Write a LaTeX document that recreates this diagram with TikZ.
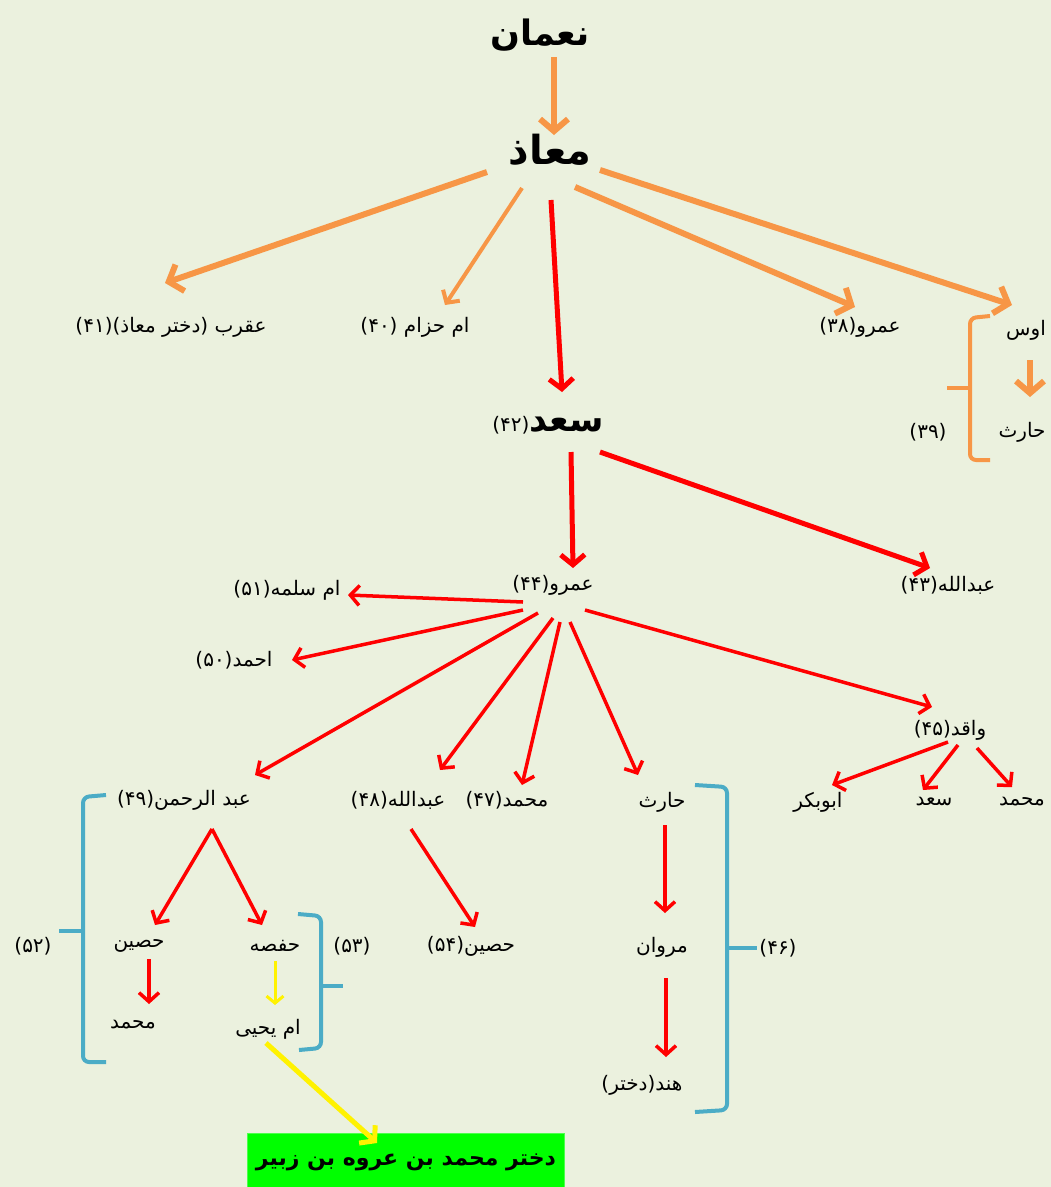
\documentclass[tikz,border=0pt]{standalone}
\usepackage{fontspec}
\usetikzlibrary{arrows.meta}
\TeXXeTstate=1
\newfontfamily\arabicfont[Script=Arabic]{DejaVu Sans}
\newcommand\labelfont{\arabicfont\mdseries\fontsize{20}{24}\selectfont}
\newcommand\titlefont{\arabicfont\bfseries\fontsize{35}{40}\selectfont}

\definecolor{bgpale}{HTML}{EBF1DE}
\definecolor{arrorange}{HTML}{F79646}
\definecolor{braceblue}{HTML}{4BACC6}
\definecolor{boxgreen}{HTML}{00FF00}

\tikzset{
  person/.style={font=\labelfont, inner sep=0pt},
  elder/.style={font=\titlefont, inner sep=0pt},
  orangeline/.style={draw=arrorange, line width=6pt, -{Straight Barb[length=12pt,width=28pt]}},
  orangethin/.style={draw=arrorange, line width=4pt, -{Straight Barb[length=9pt,width=20pt]}},
  redthick/.style={draw=red, line width=5pt, -{Straight Barb[length=10pt,width=24pt]}},
  redline/.style={draw=red, line width=3.5pt, -{Straight Barb[length=9pt,width=20pt]}},
  yellowline/.style={draw=yellow, line width=3pt, -{Straight Barb[length=7pt,width=17pt]}},
  yellowthick/.style={draw=yellow, line width=5pt, -{Straight Barb[length=10pt,width=24pt]}},
  bluebrace/.style={draw=braceblue, line width=4pt, rounded corners=6pt},
  orangebrace/.style={draw=arrorange, line width=4pt, rounded corners=6pt}
}

\begin{document}
\begin{tikzpicture}[x=1pt,y=-1pt]
  \useasboundingbox[fill=bgpale] (0,0) rectangle (1051,1187);

  % top of the tree
  \node[elder] (noman) at (540,35) {\beginR نعمان\endR};
  \node[elder, font=\arabicfont\bfseries\fontsize{40}{44}\selectfont] (moaz) at (550,150) {\beginR معاذ\endR};
  \node[elder] (saad) at (548,425) {\beginR سعد{\labelfont(۴۲)}\endR};

  % children of moaz
  \node[person] (aqrab) at (171,327) {\beginR عقرب (دختر معاذ)(۴۱)\endR};
  \node[person] (omhezam) at (415,327) {\beginR ام حزام (۴۰)\endR};
  \node[person] (amr) at (860,327) {\beginR عمرو(۳۸)\endR};
  \node[person] (aws) at (1026,330) {\beginR اوس\endR};
  \node[person] (haris) at (1022,432) {\beginR حارث\endR};
  \node[person] (n39) at (928,432) {\beginR(۳۹)\endR};

  % children of saad
  \node[person] (abd43) at (948,585) {\beginR عبدالله(۴۳)\endR};
  \node[person] (amr44) at (553,585) {\beginR عمرو(۴۴)\endR};

  % children of amr44
  \node[person] (omsalma) at (287,590) {\beginR ام سلمه(۵۱)\endR};
  \node[person] (ahmad) at (234,660) {\beginR احمد(۵۰)\endR};
  \node[person] (waqed) at (950,730) {\beginR واقد(۴۵)\endR};
  \node[person] (abdrahman) at (184,800) {\beginR عبد الرحمن(۴۹)\endR};
  \node[person] (abd48) at (398,800) {\beginR عبدالله(۴۸)\endR};
  \node[person] (mohd47) at (507,800) {\beginR محمد(۴۷)\endR};
  \node[person] (haris2) at (662,802) {\beginR حارث\endR};

  % children of waqed
  \node[person] (abubakr) at (818,802) {\beginR ابوبکر\endR};
  \node[person] (saad2) at (934,802) {\beginR سعد\endR};
  \node[person] (mohd2) at (1022,802) {\beginR محمد\endR};

  % lower rows
  \node[person] (marwan) at (662,947) {\beginR مروان\endR};
  \node[person] (hind) at (642,1085) {\beginR هند(دختر)\endR};
  \node[person] (n46) at (778,948) {\beginR(۴۶)\endR};
  \node[person] (husain) at (139,946) {\beginR حصین\endR};
  \node[person] (mohd3) at (133,1025) {\beginR محمد\endR};
  \node[person] (hafsa) at (275,946) {\beginR حفصه\endR};
  \node[person] (omyahya) at (268,1029) {\beginR ام یحیی\endR};
  \node[person] (n52) at (33,946) {\beginR(۵۲)\endR};
  \node[person] (n53) at (352,946) {\beginR(۵۳)\endR};
  \node[person] (husain54) at (471,946) {\beginR حصین(۵۴)\endR};
  \node[elder, font=\arabicfont\bfseries\fontsize{22}{26}\selectfont, fill=boxgreen, draw=green!70!white,
        minimum width=317pt, minimum height=58pt] (daughter) at (406,1162)
        {\beginR دختر محمد بن عروه بن زبیر\endR};

  % orange arrows
  \draw[orangeline] ([shift={(14,22)}]noman.center) -- ([shift={(4,-15)}]moaz.center);
  \draw[orangeline] ([shift={(-63,22)}]moaz.center) -- ([shift={(-6,-44)}]aqrab.center);
  \draw[orangethin] ([shift={(-28,38)}]moaz.center) -- ([shift={(30,-22)}]omhezam.center);
  \draw[orangeline] ([shift={(25,37)}]moaz.center) -- ([shift={(-5,-20)}]amr.center);
  \draw[orangeline] ([shift={(50,20)}]moaz.center) -- ([shift={(-14,-25)}]aws.center);
  \draw[orangeline] ([shift={(4,30)}]aws.center) -- ([shift={(8,-35)}]haris.center);

  % red arrows
  \draw[redthick] ([shift={(1,50)}]moaz.center) -- ([shift={(14,-33)}]saad.center);
  \draw[redthick] ([shift={(23,27)}]saad.center) -- ([shift={(20,-17)}]amr44.center);
  \draw[redthick] ([shift={(52,27)}]saad.center) -- ([shift={(-18,-17)}]abd43.center);

  \draw[redline] ([shift={(-30,17)}]amr44.center) -- ([shift={(61,5)}]omsalma.center);
  \draw[redline] ([shift={(-30,25)}]amr44.center) -- ([shift={(58,0)}]ahmad.center);
  \draw[redline] ([shift={(-15,28)}]amr44.center) -- ([shift={(71,-25)}]abdrahman.center);
  \draw[redline] ([shift={(0,33)}]amr44.center) -- ([shift={(42,-30)}]abd48.center);
  \draw[redline] ([shift={(7,37)}]amr44.center) -- ([shift={(15,-15)}]mohd47.center);
  \draw[redline] ([shift={(17,37)}]amr44.center) -- ([shift={(-24,-27)}]haris2.center);
  \draw[redline] ([shift={(32,25)}]amr44.center) -- ([shift={(-18,-23)}]waqed.center);

  \draw[redline] ([shift={(-2,12)}]waqed.center) -- ([shift={(14,-17)}]abubakr.center);
  \draw[redline] ([shift={(8,15)}]waqed.center) -- ([shift={(-11,-12)}]saad2.center);
  \draw[redline] ([shift={(27,18)}]waqed.center) -- ([shift={(-10,-15)}]mohd2.center);

  \draw[redline] ([shift={(28,29)}]abdrahman.center) -- ([shift={(16,-21)}]husain.center);
  \draw[redline] ([shift={(28,29)}]abdrahman.center) -- ([shift={(-13,-21)}]hafsa.center);
  \draw[redline] ([shift={(13,29)}]abd48.center) -- ([shift={(4,-19)}]husain54.center);
  \draw[redline] ([shift={(3,23)}]haris2.center) -- ([shift={(3,-34)}]marwan.center);
  \draw[redline] ([shift={(4,31)}]marwan.center) -- ([shift={(24,-28)}]hind.center);
  \draw[redline] ([shift={(10,13)}]husain.center) -- ([shift={(16,-21)}]mohd3.center);

  % yellow arrows
  \draw[yellowline] ([shift={(0,15)}]hafsa.center) -- ([shift={(7,-24)}]omyahya.center);
  \draw[yellowthick] ([shift={(-2,14)}]omyahya.center) -- ([shift={(-29,-19)}]daughter.center);

  % braces
  \draw[orangebrace] (990,316) -- (970,318) -- (970,460) -- (990,460);
  \draw[orangebrace] (970,388) -- (947,388);
  \draw[bluebrace] (695,785) -- (727,787) -- (727,1110) -- (695,1112);
  \draw[bluebrace] (727,948) -- (757,948);
  \draw[bluebrace] (106,795) -- (83,797) -- (83,1062) -- (106,1062);
  \draw[bluebrace] (83,931) -- (59,931);
  \draw[bluebrace] (298,914) -- (321,916) -- (321,1048) -- (299,1050);
  \draw[bluebrace] (321,986) -- (343,986);
\end{tikzpicture}
\end{document}
